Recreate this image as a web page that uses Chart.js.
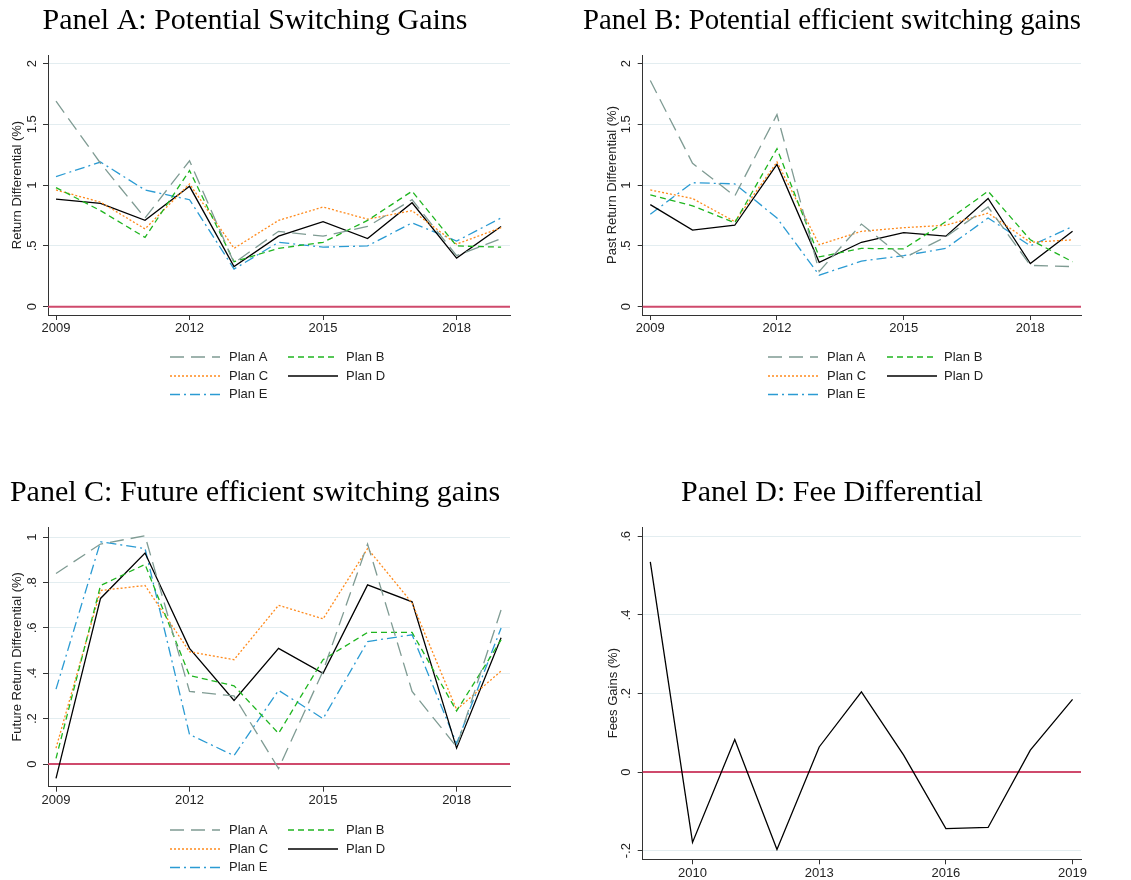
<!DOCTYPE html>
<html>
<head>
<meta charset="utf-8">
<script src="https://cdn.jsdelivr.net/npm/chart.js@4.4.1/dist/chart.umd.min.js"></script>
<style>
  body { margin: 0; background: #fff; }
  #wrap { position: relative; width: 1131px; height: 880px; overflow: hidden; background: #fff; }
  canvas { position: absolute; }
</style>
</head>
<body>
<div id="wrap">
  <canvas id="panelA" width="520" height="420" style="left:0px;top:0px"></canvas>
  <canvas id="panelB" width="548" height="420" style="left:583px;top:0px"></canvas>
  <canvas id="panelC" width="520" height="408" style="left:0px;top:472px"></canvas>
  <canvas id="panelD" width="548" height="408" style="left:583px;top:472px"></canvas>
</div>
<script>
// data
const years = [2009, 2010, 2011, 2012, 2013, 2014, 2015, 2016, 2017, 2018, 2019];
const planNames = ["Plan A", "Plan B", "Plan C", "Plan D", "Plan E"];

// Panel A: potential switching gains
const aPlanA = [1.69, 1.18, 0.73, 1.20, 0.36, 0.62, 0.58, 0.66, 0.88, 0.42, 0.56];
const aPlanB = [0.98, 0.79, 0.57, 1.12, 0.37, 0.48, 0.53, 0.71, 0.95, 0.50, 0.49];
const aPlanC = [0.96, 0.86, 0.64, 1.01, 0.48, 0.71, 0.82, 0.72, 0.79, 0.515, 0.65];
const aPlanD = [0.885, 0.85, 0.71, 0.99, 0.33, 0.58, 0.70, 0.56, 0.855, 0.40, 0.66];
const aPlanE = [1.07, 1.19, 0.96, 0.88, 0.31, 0.53, 0.49, 0.50, 0.69, 0.54, 0.73];

// Panel B: potential efficient switching gains
const bPlanA = [1.86, 1.18, 0.91, 1.58, 0.29, 0.68, 0.40, 0.575, 0.82, 0.34, 0.33];
const bPlanB = [0.92, 0.83, 0.69, 1.30, 0.41, 0.48, 0.475, 0.70, 0.95, 0.55, 0.37];
const bPlanC = [0.96, 0.89, 0.70, 1.19, 0.51, 0.62, 0.65, 0.67, 0.77, 0.53, 0.55];
const bPlanD = [0.84, 0.63, 0.67, 1.17, 0.365, 0.53, 0.61, 0.58, 0.89, 0.355, 0.62];
const bPlanE = [0.76, 1.02, 1.01, 0.73, 0.26, 0.375, 0.42, 0.48, 0.73, 0.50, 0.66];

// Panel C: future efficient switching gains
const cPlanA = [0.84, 0.97, 1.006, 0.32, 0.30, -0.02, 0.41, 0.97, 0.32, 0.076, 0.68];
const cPlanB = [0.025, 0.787, 0.88, 0.39, 0.345, 0.135, 0.46, 0.58, 0.58, 0.234, 0.547];
const cPlanC = [0.07, 0.765, 0.787, 0.495, 0.46, 0.70, 0.64, 0.95, 0.71, 0.24, 0.41];
const cPlanD = [-0.063, 0.73, 0.93, 0.51, 0.28, 0.51, 0.40, 0.79, 0.715, 0.07, 0.557];
const cPlanE = [0.33, 0.98, 0.95, 0.13, 0.037, 0.325, 0.20, 0.54, 0.57, 0.09, 0.60];

// Panel D: fee differential
const dFees = [0.535, -0.179, 0.083, -0.197, 0.064, 0.204, 0.043, -0.144, -0.141, 0.056, 0.185];

// tick values and labels
const abcXTicks = [2009, 2012, 2015, 2018];
const dXTicks = [2010, 2013, 2016, 2019];
const abYTicks = [0, 0.5, 1, 1.5, 2];
const abYLabels = ["0", ".5", "1", "1.5", "2"];
const cYTicks = [0, 0.2, 0.4, 0.6, 0.8, 1];
const cYLabels = ["0", ".2", ".4", ".6", ".8", "1"];
const dYTicks = [-0.2, 0, 0.2, 0.4, 0.6];
const dYLabels = ["-.2", "0", ".2", ".4", ".6"];

// styles
const planColors = ["#7f9b93", "#1fb51f", "#ff8a1c", "#000000", "#2b9bd3"];
const planDash = [[14, 7], [6, 4], [2, 2], [], [10, 4, 2, 4]];
const sansFont = '"Liberation Sans", Arial, sans-serif';

function series(vals, i) {
    return {
        label: planNames[i],
        data: years.map((yr, k) => ({ x: yr, y: vals[k] })),
        borderColor: planColors[i],
        borderDash: planDash[i],
        borderWidth: 1.3,
        pointRadius: 0,
        tension: 0,
        fill: false
    };
}

// zero line, rotated y tick labels, stata-like legend
const stataPlugin = {
    id: "stata",
    beforeDatasetsDraw(chart) {
        const { ctx, chartArea, scales } = chart;
        const py = scales.y.getPixelForValue(0);
        ctx.save();
        ctx.strokeStyle = "#cf4a6c";
        ctx.lineWidth = 2;
        ctx.beginPath();
        ctx.moveTo(chartArea.left, py);
        ctx.lineTo(chartArea.right, py);
        ctx.stroke();
        ctx.restore();
    },
    afterDraw(chart, args, opts) {
        const { ctx, scales } = chart;
        const y = scales.y;
        ctx.save();
        ctx.font = "13px " + sansFont;
        ctx.fillStyle = "#222";
        ctx.textAlign = "center";
        ctx.textBaseline = "middle";
        opts.yTicks.forEach((v, i) => {
            ctx.save();
            ctx.translate(y.right - 16, y.getPixelForValue(v));
            ctx.rotate(-Math.PI / 2);
            ctx.fillText(opts.yLabels[i], 0, 0);
            ctx.restore();
        });

        if (opts.legend) {
            const L = opts.legend;
            ctx.textAlign = "left";
            chart.data.datasets.forEach((ds, i) => {
                const col = L.cols[i % 2];
                const ry = L.rows[Math.floor(i / 2)];
                ctx.save();
                ctx.strokeStyle = ds.borderColor;
                ctx.lineWidth = 1.3;
                ctx.setLineDash(ds.borderDash || []);
                ctx.beginPath();
                ctx.moveTo(col[0], ry);
                ctx.lineTo(col[0] + 50, ry);
                ctx.stroke();
                ctx.restore();
                ctx.fillText(ds.label, col[1], ry);
            });
        }
        ctx.restore();
    }
};

function makeChart(id, cfg) {
    const tickFont = { family: sansFont, size: 13 };
    new Chart(document.getElementById(id).getContext("2d"), {
        type: "line",
        data: { datasets: cfg.datasets },
        options: {
            responsive: false,
            animation: false,
            layout: { padding: { left: 0, right: cfg.width - cfg.plotRight, top: 0, bottom: cfg.height - cfg.plotBottom - cfg.xAxisHeight } },
            plugins: {
                legend: { display: false },
                tooltip: { enabled: false },
                title: {
                    display: true,
                    text: cfg.title,
                    color: "#000",
                    font: { family: '"Liberation Serif", "Times New Roman", serif', size: 30, weight: "normal" },
                    padding: { top: 3, bottom: 55 - 3 - 36 }
                },
                stata: { yTicks: cfg.yTicks, yLabels: cfg.yLabels, legend: cfg.legend }
            },
            scales: {
                x: {
                    type: "linear",
                    min: 2008.82,
                    max: 2019.2,
                    afterBuildTicks: s => { s.ticks = cfg.xTicks.map(v => ({ value: v })); },
                    afterFit: s => { s.height = cfg.xAxisHeight; },
                    grid: { drawOnChartArea: false, tickLength: 5, tickColor: "#333" },
                    border: { color: "#333", width: 1 },
                    ticks: { font: tickFont, color: "#222", padding: 1, maxRotation: 0, callback: v => String(v) }
                },
                y: {
                    min: cfg.yMin,
                    max: cfg.yMax,
                    afterBuildTicks: s => { s.ticks = cfg.yTicks.map(v => ({ value: v })); },
                    afterFit: s => { s.width = cfg.plotLeft; },
                    grid: {
                        color: c => (c.tick && c.tick.value === 0) ? "rgba(0,0,0,0)" : "#e3edf0",
                        tickLength: 5,
                        tickColor: "#333"
                    },
                    border: { color: "#333", width: 1 },
                    ticks: { display: false },
                    title: {
                        display: true,
                        text: cfg.yTitle,
                        color: "#222",
                        font: tickFont,
                        padding: { top: cfg.yTitlePad, bottom: 0 }
                    }
                }
            }
        },
        plugins: [stataPlugin]
    });
}

makeChart("panelA", {
    title: "Panel A: Potential Switching Gains",
    yTitle: "Return Differential (%)",
    datasets: [aPlanA, aPlanB, aPlanC, aPlanD, aPlanE].map(series),
    width: 520, height: 420, plotLeft: 48, plotRight: 510, plotBottom: 315, xAxisHeight: 22,
    yMin: -0.068, yMax: 2.07, yTicks: abYTicks, yLabels: abYLabels, xTicks: abcXTicks,
    yTitlePad: 9.2,
    legend: { cols: [[170, 229], [288, 346]], rows: [357, 376, 394.5] }
});

makeChart("panelB", {
    title: "Panel B: Potential efficient switching gains",
    yTitle: "Past Return Differential (%)",
    datasets: [bPlanA, bPlanB, bPlanC, bPlanD, bPlanE].map(series),
    width: 548, height: 420, plotLeft: 59.7, plotRight: 498, plotBottom: 315, xAxisHeight: 22,
    yMin: -0.068, yMax: 2.07, yTicks: abYTicks, yLabels: abYLabels, xTicks: abcXTicks,
    yTitlePad: 21.2,
    legend: { cols: [[185, 244], [304, 361]], rows: [357, 376, 394.5] }
});

makeChart("panelC", {
    title: "Panel C: Future efficient switching gains",
    yTitle: "Future Return Differential (%)",
    datasets: [cPlanA, cPlanB, cPlanC, cPlanD, cPlanE].map(series),
    width: 520, height: 408, plotLeft: 48, plotRight: 510, plotBottom: 314.7, xAxisHeight: 22,
    yMin: -0.1, yMax: 1.045, yTicks: cYTicks, yLabels: cYLabels, xTicks: abcXTicks,
    yTitlePad: 9.2,
    legend: { cols: [[170, 229], [288, 346]], rows: [358, 377, 395.5] }
});

makeChart("panelD", {
    title: "Panel D: Fee Differential",
    yTitle: "Fees Gains (%)",
    datasets: [{
        label: "Fees",
        data: years.map((yr, k) => ({ x: yr, y: dFees[k] })),
        borderColor: "#000",
        borderWidth: 1.3,
        pointRadius: 0,
        tension: 0,
        fill: false
    }],
    width: 548, height: 408, plotLeft: 59.7, plotRight: 498, plotBottom: 387.3, xAxisHeight: 20.7,
    yMin: -0.222, yMax: 0.624, yTicks: dYTicks, yLabels: dYLabels, xTicks: dXTicks,
    yTitlePad: 22.5,
    legend: null
});
</script>
</body>
</html>
